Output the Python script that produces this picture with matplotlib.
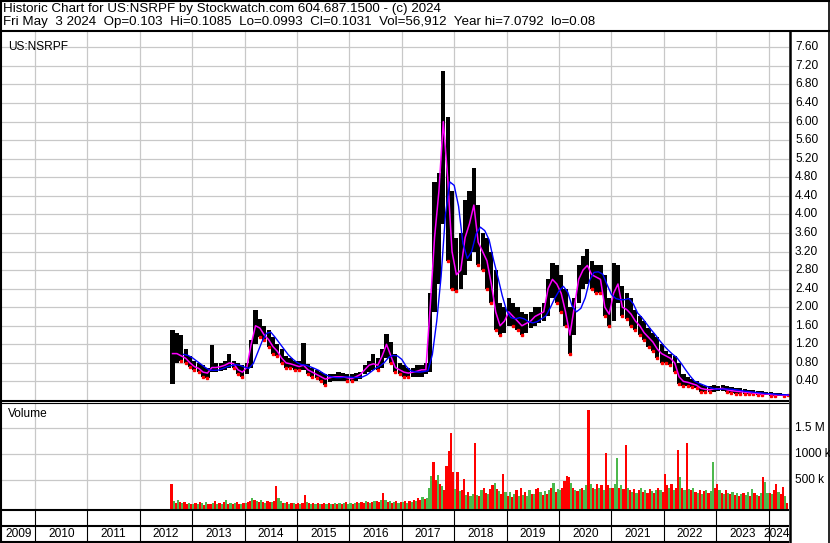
import matplotlib
matplotlib.use("Agg")
import matplotlib.pyplot as plt
from matplotlib.lines import Line2D
import numpy as np
import pandas as pd

plt.rcParams['font.family'] = ['Liberation Sans', 'DejaVu Sans']

# ---------------- DATA ----------------
title_line1 = "Historic Chart for US:NSRPF by Stockwatch.com 604.687.1500 - (c) 2024"
title_line2 = ("Fri May  3 2024  Op=0.103  Hi=0.1085  Lo=0.0993  Cl=0.1031  "
               "Vol=56,912  Year hi=7.0792  lo=0.08")
symbol = "US:NSRPF"
start_year, start_month = 2012, 8   # first monthly bar

# monthly high / low / close, Aug 2012 .. May 2024
high = [1.50, 1.45, 1.40, 1.10, 0.95,
        0.85, 0.80, 0.75, 0.70, 1.18, 0.80, 0.80, 0.85, 1.00, 0.85, 0.80, 0.75,
        0.80, 1.30, 1.94, 1.75, 1.60, 1.50, 1.35, 1.20, 1.10, 0.95, 0.90, 0.85,
        0.85, 1.22, 0.78, 0.70, 0.65, 0.60, 0.55, 0.55, 0.55, 0.60, 0.58, 0.55,
        0.55, 0.58, 0.60, 0.75, 0.85, 1.00, 0.90, 1.10, 1.42, 1.25, 1.00, 0.80,
        0.75, 0.70, 0.70, 0.75, 0.75, 0.80, 2.30, 4.70, 4.90, 7.08, 6.10, 4.50,
        3.50, 3.60, 4.30, 4.50, 5.00, 4.20, 3.60, 3.50, 3.20, 2.80, 2.10, 2.00,
        2.20, 2.10, 2.00, 1.90, 1.85, 1.90, 2.00, 2.00, 2.10, 2.60, 2.95, 2.90,
        2.70, 2.40, 2.00, 2.20, 2.90, 3.10, 3.25, 3.00, 2.90, 2.90, 2.70, 2.20,
        2.95, 2.90, 2.45, 2.30, 2.20, 1.95, 1.80, 1.70, 1.55, 1.45, 1.35, 1.20,
        1.05, 1.00, 0.95, 0.80, 0.55, 0.50, 0.45, 0.40, 0.35, 0.30, 0.30, 0.32,
        0.30, 0.32, 0.30, 0.28, 0.26, 0.25, 0.24, 0.22, 0.22, 0.20, 0.19, 0.18,
        0.17, 0.16, 0.15, 0.14, 0.11]
low = [0.35, 0.80, 0.85, 0.80, 0.72,
       0.65, 0.60, 0.50, 0.47, 0.60, 0.60, 0.62, 0.65, 0.70, 0.68, 0.55, 0.50,
       0.55, 0.70, 1.20, 1.35, 1.30, 1.15, 1.00, 0.95, 0.80, 0.70, 0.70, 0.65,
       0.65, 0.65, 0.55, 0.50, 0.47, 0.40, 0.32, 0.38, 0.40, 0.42, 0.42, 0.40,
       0.40, 0.42, 0.45, 0.55, 0.60, 0.65, 0.65, 0.70, 0.90, 0.80, 0.60, 0.55,
       0.50, 0.50, 0.50, 0.50, 0.50, 0.55, 0.60, 1.90, 2.50, 3.80, 3.00, 2.40,
       2.35, 2.40, 2.70, 3.00, 3.20, 2.90, 2.80, 2.40, 2.10, 1.50, 1.40, 1.45,
       1.60, 1.60, 1.50, 1.40, 1.45, 1.55, 1.60, 1.65, 1.70, 1.80, 2.20, 2.10,
       1.90, 1.60, 1.00, 1.40, 2.10, 2.40, 2.50, 2.40, 2.30, 2.30, 1.80, 1.60,
       1.70, 2.10, 1.80, 1.75, 1.60, 1.50, 1.40, 1.30, 1.15, 1.05, 0.90, 0.80,
       0.80, 0.75, 0.60, 0.35, 0.30, 0.30, 0.28, 0.25, 0.18, 0.17, 0.17, 0.18,
       0.20, 0.20, 0.18, 0.15, 0.14, 0.14, 0.13, 0.12, 0.12, 0.11, 0.10, 0.10,
       0.09, 0.09, 0.08, 0.08, 0.099]
close = [1.00, 1.00, 0.95, 0.90, 0.80,
         0.72, 0.68, 0.60, 0.58, 0.70, 0.70, 0.72, 0.75, 0.80, 0.78, 0.65, 0.60,
         0.70, 1.20, 1.60, 1.55, 1.40, 1.30, 1.15, 1.05, 0.90, 0.80, 0.78, 0.75,
         0.72, 0.75, 0.65, 0.60, 0.55, 0.50, 0.45, 0.48, 0.50, 0.50, 0.50, 0.48,
         0.46, 0.50, 0.55, 0.65, 0.75, 0.78, 0.75, 0.95, 1.20, 0.95, 0.70, 0.65,
         0.60, 0.58, 0.60, 0.62, 0.65, 0.65, 2.00, 3.50, 4.50, 6.00, 4.80, 3.20,
         2.70, 2.80, 3.50, 3.80, 4.20, 3.40, 3.20, 3.00, 2.50, 1.90, 1.60, 1.70,
         1.90, 1.80, 1.70, 1.60, 1.65, 1.70, 1.80, 1.85, 1.90, 2.40, 2.60, 2.50,
         2.30, 1.90, 1.40, 2.00, 2.60, 2.80, 2.90, 2.70, 2.65, 2.60, 2.00, 1.85,
         2.30, 2.50, 2.00, 1.95, 1.85, 1.70, 1.60, 1.45, 1.35, 1.25, 1.10, 1.00,
         0.95, 0.90, 0.80, 0.50, 0.40, 0.38, 0.35, 0.32, 0.25, 0.23, 0.22, 0.24,
         0.24, 0.25, 0.22, 0.20, 0.19, 0.18, 0.17, 0.16, 0.15, 0.14, 0.13, 0.13,
         0.12, 0.11, 0.11, 0.105, 0.103]

# half-monthly volume (thousands of shares), from Aug 2012
volume_k = [420, 90, 60, 110, 70, 50, 80, 40, 60, 30,
            40, 60, 30, 80, 50, 25, 70, 40, 30, 60, 90, 40, 50, 30, 70, 110, 40, 60, 30, 50, 80, 40, 30, 60,
            50, 70, 100, 150, 120, 90, 80, 110, 70, 60, 90, 80, 70, 100, 380, 150, 90, 60, 50, 70, 40, 60, 50, 40,
            60, 40, 50, 220, 80, 50, 40, 60, 30, 50, 40, 30, 50, 40, 60, 30, 40, 50, 30, 60, 40, 50, 70, 40,
            50, 40, 60, 70, 50, 80, 60, 90, 70, 60, 80, 100, 90, 70, 120, 250, 110, 80, 90, 60, 70, 100, 60, 80,
            70, 90, 60, 100, 80, 120, 90, 150, 110, 170, 130, 160, 350, 580, 850, 500, 600, 420, 380, 300, 760, 1060, 1410, 650,
            320, 660, 280, 300, 520, 220, 260, 200, 230, 1220, 210, 190, 300, 350, 250, 240, 320, 400, 440, 330, 280, 240, 615, 260,
            200, 260, 170, 240, 300, 190, 355, 220, 260, 200, 300, 240, 230, 320, 355, 260, 210, 280, 240, 310, 350, 440, 260, 320,
            300, 350, 480, 580, 560, 450, 350, 300, 280, 330, 350, 300, 400, 1850, 420, 350, 320, 420, 350, 400, 300, 1020, 400, 350,
            350, 430, 930, 350, 400, 330, 1170, 350, 300, 270, 330, 250, 310, 350, 270, 300, 250, 330, 290, 250, 310, 350, 300, 270,
            615, 400, 350, 420, 300, 350, 1080, 560, 350, 300, 1205, 330, 300, 350, 270, 250, 300, 230, 280, 310, 250, 290, 850, 350,
            420, 300, 250, 230, 300, 250, 230, 270, 210, 250, 200, 230, 250, 210, 270, 200, 330, 250, 220, 200, 250, 560, 460, 250,
            250, 230, 300, 420, 270, 230, 370, 200, 60]
volume_dir = ("rgrgrgrrgr"
              "grgrgrgrrgrgrgrgrgrgrrgr"
              "grrgrgrgrgrrgrrggrgrgrgr"
              "rgrrgrgrgrgrrgrgrgrgrgrg"
              "grgrgrrgrgrgrrgrgrgrgrgr"
              "grgrgrgrrgrgggrrgrgrrrrr"
              "grgrrgrggrgrgrrgrrgrgrrg"
              "rgrgrgrgrggrgrrgrgrgrgrg"
              "grrrrgrgrgrggrgrgrgrgrrg"
              "rggrgrrgrgrgrgrgrrgrgrgr"
              "rrgrgrrgrgrgrgrgrgrgrggr"
              "rgrgrgrgrgrgrggrgrgrgrgg"
              "rgrrgrrgr")

price_ticks = [0.40, 0.80, 1.20, 1.60, 2.00, 2.40, 2.80, 3.20, 3.60, 4.00,
               4.40, 4.80, 5.20, 5.60, 6.00, 6.40, 6.80, 7.20, 7.60]
vol_ticks_k = [500, 1000, 1500]
vol_tick_labels = ["500 k", "1000 k", "1.5 M"]
years = list(range(2009, 2025))

# ---------------- derived positions ----------------
n = len(close)
month_idx = np.arange(n) + (start_month - 1)
t_month = start_year + (month_idx + 0.5) / 12.0
nv = len(volume_k)
t_vol = start_year + (start_month - 1) / 12.0 + (np.arange(nv) + 0.5) / 24.0
close_s = pd.Series(close)
ma_blue = close_s.rolling(4, min_periods=3).mean().values

# ---------------- figure layout (pixel based) ----------------
W, H = 830, 543
fig = plt.figure(figsize=(W / 100, H / 100), dpi=100)
fig.patch.set_facecolor('white')

def ax_rect(x0, y0, x1, y1):
    return [x0 / W, 1 - y1 / H, (x1 - x0) / W, (y1 - y0) / H]

X0, X1 = 2, 789
px_per_year = 52.4
year2010_x = 35.0
def x_to_t(px):
    return 2010 + (px - year2010_x) / px_per_year

XLIM = (x_to_t(X0), x_to_t(X1))
GRID = '#c8c8c8'
FS = 8.6
FS_HEAD = 9.6

# price axes
axp = fig.add_axes(ax_rect(X0, 31, X1, 400))
axp.set_xlim(*XLIM)
axp.set_ylim(0, (400 - 31) / 46.4)
for s in axp.spines.values():
    s.set_visible(False)
axp.set_xticks([]); axp.set_yticks([])
for v in price_ticks:
    axp.axhline(v, color=GRID, lw=0.9, zorder=0)
for y in years[1:]:
    axp.axvline(y, color=GRID, lw=0.9, zorder=0)

mw = 1 / 12.0
axp.bar(t_month, np.array(high) - np.array(low), bottom=low, width=mw * 0.95,
        color='black', zorder=2, linewidth=0)
down = np.r_[False, np.diff(close) < 0]
axp.plot(t_month[down], np.array(low)[down], 's', color='red', ms=1.6,
         mec='red', zorder=3)
axp.plot(t_month, close, color='#ff00ff', lw=1.1, zorder=4)
axp.plot(t_month + mw / 2, ma_blue, color='#0000ff', lw=1.0, zorder=5)
axp.text(x_to_t(8), 7.6, symbol, fontsize=FS, va='center', ha='left')

# volume axes
VOL_TOP_PX, VOL_BOT_PX = 403, 509
k_per_px = 500 / 26.0
vol_zero_px = 506
vmin = -(VOL_BOT_PX - vol_zero_px) * k_per_px
vmax = (vol_zero_px - VOL_TOP_PX) * k_per_px
axv = fig.add_axes(ax_rect(X0, VOL_TOP_PX, X1, VOL_BOT_PX))
axv.set_xlim(*XLIM)
axv.set_ylim(vmin, vmax)
for s in axv.spines.values():
    s.set_visible(False)
axv.set_xticks([]); axv.set_yticks([])
for v in vol_ticks_k:
    axv.axhline(v, color=GRID, lw=0.9, zorder=0)
for y in years[1:]:
    axv.axvline(y, color=GRID, lw=0.9, zorder=0)
cols = ['#ff0000' if c == 'r' else '#4cb84c' for c in volume_dir]
vol = np.array(volume_k, dtype=float)
axv.bar(t_vol, vol - vmin, bottom=vmin, width=1 / 24.0, color=cols,
        linewidth=0, zorder=2)
axv.text(x_to_t(8), vmax - 11 * k_per_px, "Volume", fontsize=FS, va='center', ha='left')

# date strip axes
axd = fig.add_axes(ax_rect(X0, 510, X1, 541))
axd.set_xlim(*XLIM)
axd.set_ylim(0, 1)
axd.axis('off')
for y in years[1:]:
    axd.axvline(y, color='black', lw=0.8)
for y in years:
    a = max(y, XLIM[0]); b = min(y + 1, XLIM[1])
    c = (a + b) / 2 if y < 2024 else x_to_t(777)
    axd.text(c, 0.23, str(y), fontsize=FS, ha='center', va='center')

# right-side tick labels
def price_to_py(p):
    return 400 - p * 46.4
for p in price_ticks:
    fig.text(795 / W, 1 - price_to_py(p) / H, f"{p:.2f}", fontsize=FS,
             ha='left', va='center')
for v, lab in zip(vol_ticks_k, vol_tick_labels):
    py = vol_zero_px - v / k_per_px
    fig.text(795 / W, 1 - py / H, lab, fontsize=FS, ha='left', va='center')

# header text
fig.text(3 / W, 1 - 9 / H, title_line1, fontsize=FS_HEAD, ha='left', va='center')
fig.text(3 / W, 1 - 22 / H, title_line2, fontsize=FS_HEAD, ha='left', va='center')

# frame lines
def hline(py, x0, x1, lw):
    fig.add_artist(Line2D([x0 / W, x1 / W], [1 - py / H, 1 - py / H], color='black',
                          lw=lw, transform=fig.transFigure, solid_capstyle='butt'))
def vline(px, y0, y1, lw):
    fig.add_artist(Line2D([px / W, px / W], [1 - y0 / H, 1 - y1 / H], color='black',
                          lw=lw, transform=fig.transFigure, solid_capstyle='butt'))

hline(0.7, 0, W, 1.5)
hline(30.5, 0, W, 1.5)
hline(400.5, 0, X1, 1.5)
hline(402.8, 0, X1, 0.8)
hline(509.8, 0, X1, 1.5)
hline(526.3, 0, X1, 1.5)
hline(541.5, 0, X1, 1.5)
vline(0.8, 0, H, 1.5)
vline(789.5, 30, H, 1.8)
vline(829.3, 0, H, 1.2)

fig.savefig("out.png", dpi=100, facecolor='white')
